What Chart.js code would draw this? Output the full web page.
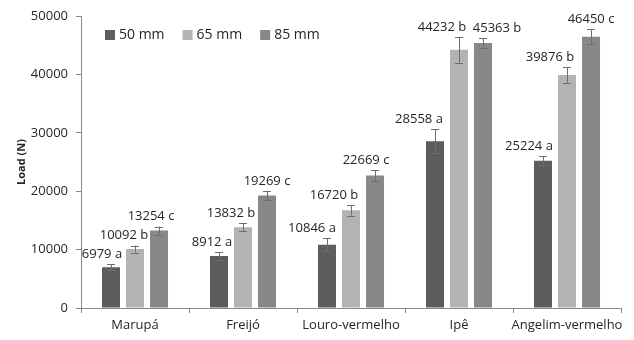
<!DOCTYPE html>
<html>
<head>
<meta charset="utf-8">
<script src="https://cdn.jsdelivr.net/npm/chart.js@4/dist/chart.umd.min.js"></script>
<style>
  html, body { margin: 0; padding: 0; background: #fff; }
  #wrap { width: 634px; height: 340px; }
</style>
</head>
<body>
<div id="wrap"><canvas id="chart" width="634" height="340"></canvas></div>
<script>
// Data
const categories = ['Marupá', 'Freijó', 'Louro-vermelho', 'Ipê', 'Angelim-vermelho'];
const seriesNames = ['50 mm', '65 mm', '85 mm'];
const load50 = [6979, 8912, 10846, 28558, 25224];
const load65 = [10092, 13832, 16720, 44232, 39876];
const load85 = [13254, 19269, 22669, 45363, 46450];
const err50 = [500, 700, 1100, 2100, 750];
const err65 = [600, 700, 900, 2200, 1400];
const err85 = [700, 800, 950, 800, 1250];
const letters50 = ['a', 'a', 'a', 'a', 'a'];
const letters65 = ['b', 'b', 'b', 'b', 'b'];
const letters85 = ['c', 'c', 'c', 'b', 'c'];
const yTicks = [0, 10000, 20000, 30000, 40000, 50000];

// label nudges (px), as placed by hand in the original
const labelShift = [
  [-9, -7, -15, -16, -14],
  [-11, -12, -17, -17, -17],
  [-8, 0, -9, 14, 0]
];

const colors = ['#5d5d5d', '#b3b3b3', '#888888'];
const axisColor = '#898989';
const textColor = '#262626';
const FONT = "'Open Sans', 'Noto Sans', sans-serif";

const values = [load50, load65, load85];
const errors = [err50, err65, err85];
const letters = [letters50, letters65, letters85];

// Error bars + value labels
const annotate = {
  id: 'annotate',
  afterDatasetsDraw(chart) {
    const ctx = chart.ctx;
    const y = chart.scales.y;
    ctx.save();
    chart.data.datasets.forEach((ds, di) => {
      const meta = chart.getDatasetMeta(di);
      meta.data.forEach((bar, i) => {
        const v = values[di][i];
        const e = errors[di][i];
        const x = bar.x;
        const top = y.getPixelForValue(v + e);
        const bot = y.getPixelForValue(v - e);
        ctx.strokeStyle = '#6e6e6e';
        ctx.lineWidth = 1;
        ctx.beginPath();
        ctx.moveTo(Math.round(x) + 0.5, top);
        ctx.lineTo(Math.round(x) + 0.5, bot);
        ctx.moveTo(x - 4, Math.round(top) + 0.5);
        ctx.lineTo(x + 4, Math.round(top) + 0.5);
        ctx.moveTo(x - 4, Math.round(bot) + 0.5);
        ctx.lineTo(x + 4, Math.round(bot) + 0.5);
        ctx.stroke();

        ctx.fillStyle = textColor;
        ctx.font = `13px ${FONT}`;
        ctx.textAlign = 'center';
        ctx.textBaseline = 'middle';
        ctx.fillText(`${v} ${letters[di][i]}`, x + labelShift[di][i], top - 10);
      });
    });
    ctx.restore();
  }
};

// Legend drawn inside the plot area, top left
const innerLegend = {
  id: 'innerLegend',
  afterDraw(chart) {
    const ctx = chart.ctx;
    const area = chart.chartArea;
    let x = area.left + 24;
    const yMid = 35;
    ctx.save();
    ctx.font = `14px ${FONT}`;
    ctx.textBaseline = 'middle';
    ctx.textAlign = 'left';
    chart.data.datasets.forEach(ds => {
      ctx.fillStyle = ds.backgroundColor;
      ctx.fillRect(x, yMid - 5, 10, 10);
      ctx.fillStyle = textColor;
      ctx.fillText(ds.label, x + 14, yMid);
      x += 14 + ctx.measureText(ds.label).width + 18;
    });
    ctx.restore();
  }
};

new Chart(document.getElementById('chart'), {
  type: 'bar',
  data: {
    labels: categories,
    datasets: seriesNames.map((name, i) => ({
      label: name,
      data: values[i],
      backgroundColor: colors[i],
      categoryPercentage: 0.667,
      barPercentage: 0.75
    }))
  },
  options: {
    responsive: false,
    animation: false,
    layout: { padding: { top: 16, right: 13, bottom: 0, left: 0 } },
    plugins: {
      legend: { display: false },
      tooltip: { enabled: false }
    },
    scales: {
      x: {
        grid: { offset: true, drawOnChartArea: false, tickLength: 5, color: axisColor },
        border: { color: axisColor },
        ticks: { color: textColor, font: { family: FONT, size: 13 }, padding: 4, maxRotation: 0, autoSkip: false },
        afterFit(scale) { scale.height = 32; }
      },
      y: {
        min: 0,
        max: 50000,
        afterBuildTicks(scale) { scale.ticks = yTicks.map(v => ({ value: v })); },
        grid: { drawOnChartArea: false, tickLength: 5, color: axisColor },
        border: { color: axisColor },
        ticks: { color: textColor, font: { family: FONT, size: 13 }, padding: 8, callback: v => String(v) },
        title: {
          display: true,
          text: 'Load (N)',
          color: textColor,
          font: { family: FONT, size: 11, weight: 'bold' },
          padding: { top: 15, bottom: 0 }
        },
        afterFit(scale) { scale.width = 81; }
      }
    }
  },
  plugins: [annotate, innerLegend]
});
</script>
</body>
</html>
